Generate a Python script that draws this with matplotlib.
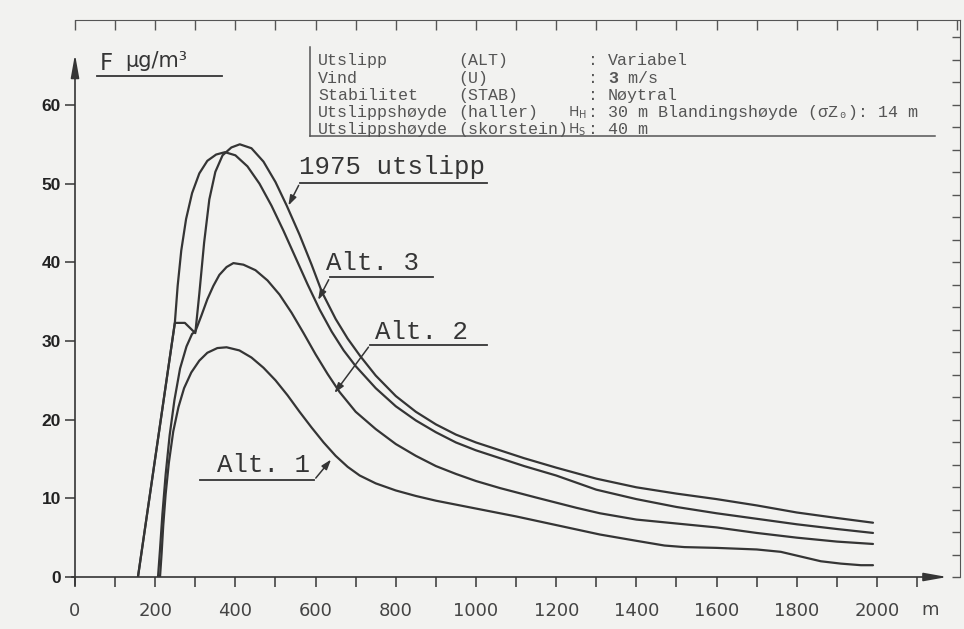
import matplotlib.pyplot as plt
from matplotlib.ticker import NullFormatter

# Avstand fra kilde (m) og konsentrasjon F (ug/m3) for hver kurve
dist_1975 = [157, 249, 274, 300, 310, 322, 335, 350, 368, 390, 411, 440, 470, 500, 528,
             560, 590, 616, 650, 680, 711, 750, 800, 850, 900, 950, 1000, 1060, 1120,
             1200, 1300, 1400, 1500, 1600, 1700, 1800, 1900, 1990]
f_1975 = [0, 32.3, 32.3, 31.0, 36.0, 42.5, 48.0, 51.5, 53.6, 54.6, 55.0, 54.5, 52.8, 50.2, 47.2,
          43.5, 39.7, 36.2, 32.8, 30.3, 28.1, 25.6, 23.0, 21.0, 19.4, 18.1, 17.1, 16.1, 15.1,
          13.9, 12.5, 11.4, 10.6, 9.9, 9.1, 8.2, 7.5, 6.9]

dist_alt3 = [157, 249, 256, 265, 277, 292, 310, 330, 352, 374, 400, 430, 460, 490, 520,
             550, 580, 610, 640, 670, 700, 750, 800, 850, 900, 950, 1000, 1060, 1120,
             1200, 1300, 1400, 1500, 1600, 1700, 1800, 1900, 1990]
f_alt3 = [0, 32.3, 37.0, 41.5, 45.5, 48.8, 51.3, 52.9, 53.7, 54.0, 53.6, 52.2, 50.0, 47.2, 44.0,
          40.6, 37.2, 34.0, 31.2, 28.8, 26.8, 24.0, 21.7, 19.9, 18.4, 17.1, 16.1, 15.1, 14.1,
          12.9, 11.1, 9.9, 8.9, 8.1, 7.4, 6.7, 6.1, 5.6]

dist_alt2 = [207, 212, 218, 226, 236, 248, 262, 278, 292, 300, 315, 330, 345, 360, 378,
             395, 420, 450, 480, 510, 540, 570, 600, 630, 660, 700, 750, 800, 850, 900,
             950, 1000, 1060, 1150, 1250, 1309, 1400, 1500, 1600, 1700, 1800, 1900, 1990]
f_alt2 = [0, 3.5, 8.0, 13.0, 18.0, 22.5, 26.5, 29.3, 30.9, 31.2, 33.2, 35.3, 37.0, 38.4, 39.4,
          39.9, 39.7, 39.0, 37.7, 35.9, 33.6, 31.0, 28.3, 25.8, 23.5, 21.0, 18.8, 16.9, 15.4, 14.1,
          13.1, 12.2, 11.3, 10.1, 8.8, 8.1, 7.3, 6.8, 6.3, 5.6, 5.0, 4.5, 4.2]

dist_alt1 = [212, 216, 220, 226, 234, 245, 258, 272, 290, 310, 330, 355, 378, 410, 440,
             470, 500, 530, 560, 590, 620, 650, 680, 710, 750, 800, 850, 900, 1000, 1100,
             1200, 1309, 1400, 1470, 1520, 1600, 1700, 1760, 1810, 1860, 1910, 1960, 1990]
f_alt1 = [0, 3.0, 6.5, 10.5, 14.5, 18.5, 21.6, 24.0, 26.0, 27.5, 28.5, 29.1, 29.2, 28.8, 27.9,
          26.6, 25.0, 23.1, 21.0, 19.0, 17.1, 15.4, 14.0, 12.9, 11.9, 11.0, 10.3, 9.7, 8.7, 7.7,
          6.6, 5.4, 4.6, 4.0, 3.8, 3.7, 3.5, 3.2, 2.6, 2.0, 1.7, 1.5, 1.5]

x_ticks = list(range(0, 2001, 200))
y_ticks = [0, 10, 20, 30, 40, 50, 60]

# kurvetekster: tekst, tekstposisjon, understrek (x0, x1, y), pil fra, pilspiss
labels = [
    ("1975 utslipp", (791, 52.1), (561, 1027, 50.1), (561, 50.1), (529, 46.9)),
    ("Alt. 3", (743, 39.9), (636, 893, 38.1), (636, 38.1), (603, 34.9)),
    ("Alt. 2", (863, 31.1), (736, 1027, 29.5), (736, 29.5), (643, 23.1)),
    ("Alt. 1", (469, 14.2), (312, 596, 12.3), (596, 12.3), (643, 15.2)),
]

ink = "#353535"
paper = "#f2f2f0"
mono = ["Liberation Mono", "DejaVu Sans Mono"]

fig = plt.figure(figsize=(9.64, 6.29), dpi=100, facecolor=paper)
ax = fig.add_axes([75 / 964, 52 / 629, 885 / 964, 557 / 629])
ax.set_facecolor(paper)
ax.set_xlim(0, 2207)
ax.set_ylim(0, 70.8)

for d, f in [(dist_1975, f_1975), (dist_alt3, f_alt3), (dist_alt2, f_alt2), (dist_alt1, f_alt1)]:
    ax.plot(d, f, color=ink, lw=1.6, solid_joinstyle="round", solid_capstyle="round")

# akser med piler
ax.spines["left"].set_bounds(-1, 64)
ax.spines["bottom"].set_bounds(-8, 2140)
for s in ["left", "bottom"]:
    ax.spines[s].set_color(ink)
    ax.spines[s].set_linewidth(1.2)
ax.spines["top"].set_visible(False)
ax.spines["right"].set_visible(False)
ax.annotate("", xy=(0, 66.8), xytext=(0, 63), annotation_clip=False,
            arrowprops=dict(arrowstyle="-|>,head_length=1.4,head_width=0.25", color=ink, lw=1.2))
ax.annotate("", xy=(2182, 0), xytext=(2130, 0), annotation_clip=False,
            arrowprops=dict(arrowstyle="-|>,head_length=1.4,head_width=0.25", color=ink, lw=1.2))

ax.set_xticks(x_ticks)
ax.set_xticklabels([str(v) for v in x_ticks], fontsize=13, color="#444444")
ax.set_xticks(list(range(100, 2101, 200)), minor=True)
ax.tick_params(axis="x", which="both", direction="out", length=7, width=1.1, color=ink, pad=11)
ax.set_yticks(y_ticks)
ax.set_yticklabels([str(v) for v in y_ticks], fontsize=12.5, fontweight="bold",
                   family="Liberation Sans", color="#222222")
ax.tick_params(axis="y", direction="out", length=7, width=1.1, color=ink, pad=3)
ax.text(2132, -4.2, "m", fontsize=13, color="#444444", ha="center", va="center")

# ramme fra millimeterpapiret
top = ax.secondary_xaxis("top")
top.set_xticks(list(range(0, 2201, 100)))
top.xaxis.set_major_formatter(NullFormatter())
top.tick_params(direction="in", length=7, width=1, color="#555555")
top.spines["top"].set_color("#555555")
right = ax.twinx()
right.set_ylim(0, 24.76)
right.set_yticks(range(0, 25))
right.yaxis.set_major_formatter(NullFormatter())
right.tick_params(direction="in", length=6, width=1, color="#555555")
for s in ["left", "top", "bottom"]:
    right.spines[s].set_visible(False)
right.spines["right"].set_color("#555555")

# F ug/m3
ax.text(62, 65.3, "F", fontsize=16.5, color=ink, ha="left", va="center")
ax.text(125, 65.6, "μg/m³", fontsize=15, color=ink, ha="left", va="center")
ax.plot([55, 367], [63.7, 63.7], color=ink, lw=1.3, clip_on=False)

# kurvetekster med understrek og pil
for txt, (tx, ty), (u0, u1, uy), start, tip in labels:
    ax.text(tx, ty, txt, fontsize=18.5, family=mono, color=ink, ha="center", va="center")
    ax.plot([u0, u1], [uy, uy], color=ink, lw=1.3)
    ax.annotate("", xy=tip, xytext=start,
                arrowprops=dict(arrowstyle="-|>,head_length=0.6,head_width=0.2", color=ink, lw=1.1))

# boks med forutsetninger
rows_y = [65.7, 63.4, 61.2, 59.0, 56.9]
x0 = 606
box_col = "#555555"
ax.plot([586, 586], [67.4, 56.0], color=box_col, lw=1.1)
ax.plot([586, 2145], [56.0, 56.0], color=box_col, lw=1.1)
rows = [
    [(0, "Utslipp"), (14, "(ALT)"), (27, ":"), (29, "Variabel")],
    [(0, "Vind"), (14, "(U)"), (27, ":"), (29, "3"), (30, " m/s")],
    [(0, "Stabilitet"), (14, "(STAB)"), (27, ":"), (29, "Nøytral")],
    [(0, "Utslippshøyde"), (14, "(haller)"), (25, "$\\mathrm{H_H}$"), (27, ": 30 m Blandingshøyde (σZ₀): 14 m")],
    [(0, "Utslippshøyde"), (14, "(skorstein)"), (25, "$\\mathrm{H_S}$"), (27, ": 40 m")],
]
fs = 12
for y, row in zip(rows_y, rows):
    for col, s in row:
        ax.annotate(s, xy=(x0, y), xytext=(col * 0.6 * fs, 0), textcoords="offset points",
                    fontsize=fs if not s.startswith("$") else fs - 2, family=mono, color=box_col,
                    fontweight="bold" if s == "3" else "normal", ha="left", va="center")

plt.savefig("out.png", dpi=100, facecolor=paper)
